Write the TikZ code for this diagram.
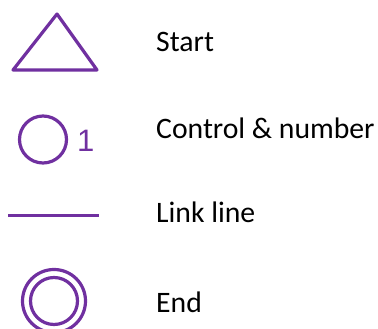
\documentclass[tikz,border=0pt]{standalone}
\usepackage{fontspec}
\setmainfont{Carlito}
\newfontfamily\numfont{Liberation Sans}
\definecolor{officepurple}{HTML}{7030A0}
\begin{document}
\begin{tikzpicture}[x=1pt,y=-1pt,
  sym/.style={draw=officepurple,line width=3.2pt,line join=round},
  label/.style={anchor=base west,inner sep=0pt,font=\fontsize{29.7}{34}\selectfont,text=black}]
\useasboundingbox (0,0) rectangle (378,329);
% Start triangle
\draw[sym] (57,14) coordinate (apex) -- (13,70) coordinate (bl) -- (97,70) coordinate (br) -- cycle;
\node[label] (tstart) at (156,52) {Start};
% Control circle
\node[sym,circle,minimum size=47pt,inner sep=0pt] (ctrl) at (43,139.5) {};
\node[anchor=base west,inner sep=0pt,text=officepurple,font=\numfont\fontsize{31}{34}\selectfont] (num) at (77,151) {1};
\node[label] (tctrl) at (156,139) {Control \& number};
% Link line
\coordinate (l1) at (8,215.5);
\coordinate (l2) at (99,215.5);
\draw[draw=officepurple,line width=2.2pt] (l1) -- (l2);
\node[label] (tlink) at (156,222) {Link line};
% End double circle
\node[sym,circle,minimum size=63pt,inner sep=0pt] (endo) at (54,301) {};
\node[sym,circle,minimum size=47pt,inner sep=0pt] (endi) at (54,301) {};
\node[label] (tend) at (156,312) {End};
\end{tikzpicture}
\end{document}
